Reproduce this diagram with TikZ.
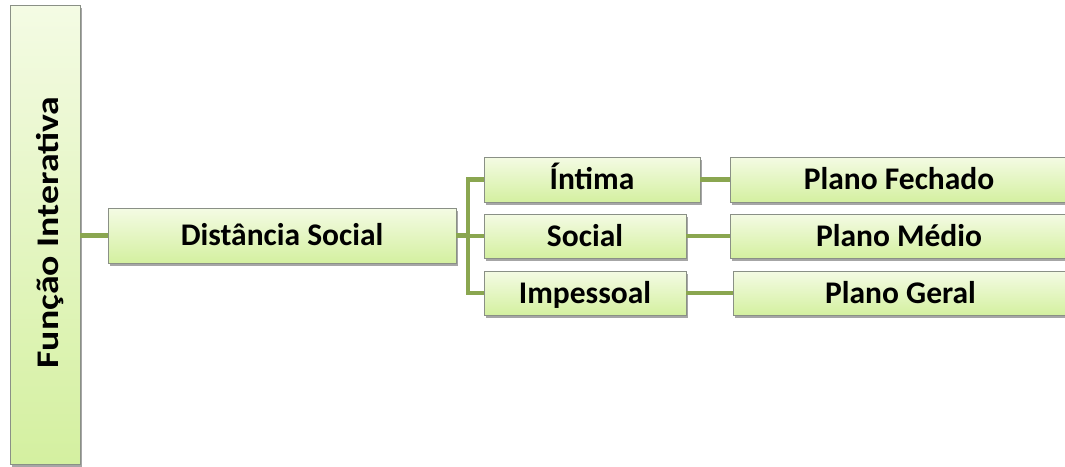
\documentclass[tikz,border=0pt]{standalone}
\usepackage{fontspec}
\setmainfont{Carlito}
\usetikzlibrary{shadows}
\definecolor{boxtop}{HTML}{F4FBE4}
\definecolor{boxbot}{HTML}{D4F0A0}
\definecolor{boxline}{HTML}{8A9086}
\definecolor{conncol}{HTML}{8AA650}
\tikzset{
  boxfont/.style={font=\fontsize{31.5}{34}\selectfont\bfseries, text height=20pt, text depth=0pt},
  box/.style={draw=boxline, line width=0.8pt, top color=boxtop, bottom color=boxbot,
    inner sep=0pt, boxfont,
    drop shadow={shadow xshift=2pt, shadow yshift=-3pt, fill=black, opacity=0.35}},
  conn/.style={draw=conncol, line width=4.8pt}
}
\begin{document}
\begin{tikzpicture}[x=1pt,y=-1pt]
\useasboundingbox (0,0) rectangle (1065,466);
\clip (0,0) rectangle (1065,466);
\node[box, minimum width=70pt, minimum height=459pt] (fi) at (45,234.5) {};
\node[rotate=90, xscale=1.2, boxfont, inner sep=0pt] (fitext) at (48,232.5) {Função Interativa};
\node[box, minimum width=348pt, minimum height=55pt] (ds) at (282,235.5) {Distância Social};
\node[box, minimum width=216pt, minimum height=45pt] (int) at (592,179.5) {Íntima};
\node[box, minimum width=202pt, minimum height=44pt] (soc) at (585,236) {Social};
\node[box, minimum width=202pt, minimum height=44pt] (imp) at (585,293) {Impessoal};
\node[box, minimum width=338pt, minimum height=45pt] (pf) at (899,179.5) {Plano Fechado};
\node[box, minimum width=338pt, minimum height=44pt] (pm) at (899,236) {Plano Médio};
\node[box, minimum width=335pt, minimum height=44pt] (pg) at (900.5,293) {Plano Geral};
\coordinate (tr) at (468,236);
\draw[conn] (fi.east |- ds.west) -- (ds.west);
\draw[conn] (ds.east) -- (ds.east -| tr);
\draw[conn] (int.west) -| (tr) |- (imp.west);
\draw[conn] (soc.west) -- (soc.west -| tr);
\draw[conn] (int.east) -- (pf.west);
\draw[conn] (soc.east) -- (pm.west);
\draw[conn] (imp.east) -- (pg.west);
\end{tikzpicture}
\end{document}
